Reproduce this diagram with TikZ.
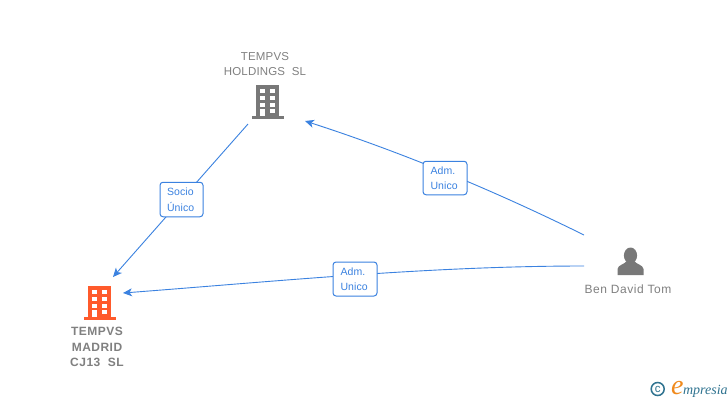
\documentclass[tikz,border=0pt]{standalone}
\usepackage{fontspec}
\setmainfont{Liberation Sans}
\newfontfamily\logofont{Liberation Serif}
\usetikzlibrary{arrows.meta}
\definecolor{edgeblue}{HTML}{3B82E0}
\definecolor{labelgrey}{HTML}{808080}
\definecolor{iconorange}{HTML}{FF5A2B}
\definecolor{icongrey}{HTML}{787878}
\definecolor{logoteal}{HTML}{2F7390}
\definecolor{logoorange}{HTML}{F08A1D}
\tikzset{
  edgeline/.style={draw=edgeblue,line width=0.9pt,-{Stealth[length=9pt,width=8pt,inset=2.5pt]}},
  relbox/.style={draw=edgeblue,line width=1pt,fill=white,rounded corners=3pt,inner sep=0pt,
    text=edgeblue,align=left,font=\fontsize{10.5}{15.5}\selectfont\addfontfeature{LetterSpace=1}},
  nametext/.style={text=labelgrey,align=center,inner sep=0pt,font=\fontsize{11.5}{15.5}\selectfont\addfontfeature{LetterSpace=1.5}},
  boldname/.style={nametext,font=\fontsize{12}{15.5}\bfseries\selectfont\addfontfeature{LetterSpace=4}},
  personname/.style={nametext,font=\fontsize{12}{15.5}\selectfont\addfontfeature{LetterSpace=4.5}},
  iconnode/.style={inner sep=0pt,minimum width=32pt,minimum height=34pt},
}
\newcommand{\buildingicon}[3]{%
  \fill[#3] (#1-11.5,#2-17) rectangle (#1+11.5,#2+14);
  \fill[#3] (#1-15.5,#2+14) rectangle (#1+16,#2+17);
  \foreach \cx in {-5.3,5}{\foreach \cy in {-10.7,-4,2.7}{
    \fill[white] (#1+\cx-2.3,#2+\cy-2) rectangle (#1+\cx+2.3,#2+\cy+2);}}
  \fill[white] (#1-7.6,#2+7) rectangle (#1-3,#2+14);
  \fill[white] (#1+2.7,#2+7) rectangle (#1+7.3,#2+10.8);
}
\begin{document}
\begin{tikzpicture}[x=1pt,y=-1pt]
\useasboundingbox (0,0) rectangle (728,400);
\fill[white] (0,0) rectangle (728,400);
% icons
\buildingicon{267.5}{102}{icongrey}
\buildingicon{99.5}{303}{iconorange}
\fill[icongrey] (630.5,255.5) ellipse (6.6 and 8);
\fill[icongrey] (617.5,275.2) -- (617.5,269) .. controls (618,265) and (624,264.5) .. (627,261)
  -- (634,261) .. controls (637,264.5) and (643,265) .. (643.5,269) -- (643.5,275.2) -- cycle;
% named nodes
\node[iconnode] (hold) at (267.5,102) {};
\node[iconnode] (madrid) at (99.5,303) {};
\node[iconnode] (ben) at (630.5,258) {};
\node[nametext] (holdname) at (265,64) {TEMPVS\\HOLDINGS\ \ SL};
\node[boldname] (madridname) at (97,347) {TEMPVS\\MADRID\\CJ13\ \ SL};
\node[personname] (benname) at (628,289) {Ben David Tom};
\coordinate (holdout) at (248,124);
\coordinate (holdin) at (305,121);
\coordinate (madin) at (113,277);
\coordinate (madin2) at (123,293);
\coordinate (benout) at (584,235);
\coordinate (benout2) at (584,266);
% connectors
\draw[edgeline] (holdout) -- (madin);
\draw[edgeline] (benout) .. controls (491,189) and (398,151) .. (holdin);
\draw[edgeline] (benout2) .. controls (430,266) and (280,281) .. (madin2);
% connector labels
\node[relbox,minimum width=43pt,minimum height=34.5pt,text width=29pt] (socio) at (181.5,199.5) {\hspace*{0pt}Socio\\Único};
\node[relbox,minimum width=44pt,minimum height=33.5pt,text width=29pt] (adm1) at (445,178) {Adm.\\Unico};
\node[relbox,minimum width=44pt,minimum height=34pt,text width=29pt] (adm2) at (355,279) {Adm.\\Unico};
% logo
\node[draw=logoteal,line width=1.5pt,circle,minimum size=13pt,inner sep=0pt,text=logoteal,font=\fontsize{11.5}{11.5}\selectfont] (copy) at (657.7,389) {c};
\node[inner sep=0pt,anchor=base west] (logo) at (671,394.5) {\logofont\itshape\fontsize{28}{28}\selectfont\textcolor{logoorange}{e}\kern-0.5pt\fontsize{14}{14}\selectfont\textcolor{logoteal}{mpresia}};
\end{tikzpicture}
\end{document}
